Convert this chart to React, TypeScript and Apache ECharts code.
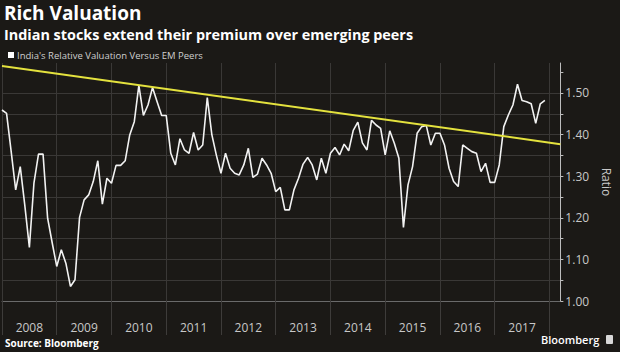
import React, { useEffect, useRef } from "react";
import * as echarts from "echarts";

const startYear = 2008;
const seriesName = "India's Relative Valuation Versus EM Peers";
// Monthly ratio values, Jan 2008 .. Dec 2017
const ratio = [
  1.459, 1.451, 1.36, 1.267, 1.323, 1.23, 1.129, 1.283, 1.353, 1.353, 1.199, 1.14,
  1.083, 1.123, 1.091, 1.035, 1.051, 1.201, 1.243, 1.255, 1.287, 1.337, 1.233, 1.295,
  1.283, 1.326, 1.326, 1.337, 1.399, 1.431, 1.518, 1.446, 1.471, 1.513, 1.479, 1.446,
  1.446, 1.355, 1.327, 1.39, 1.363, 1.355, 1.405, 1.363, 1.375, 1.489, 1.4, 1.35,
  1.307, 1.355, 1.319, 1.307, 1.303, 1.327, 1.367, 1.297, 1.305, 1.343, 1.327, 1.307,
  1.263, 1.273, 1.219, 1.219, 1.267, 1.295, 1.329, 1.345, 1.327, 1.291, 1.343, 1.307,
  1.355, 1.369, 1.351, 1.377, 1.361, 1.41, 1.43, 1.38, 1.363, 1.434, 1.423, 1.415,
  1.351, 1.409, 1.379, 1.343, 1.177, 1.279, 1.323, 1.403, 1.419, 1.422, 1.375, 1.403,
  1.403, 1.375, 1.319, 1.287, 1.275, 1.375, 1.367, 1.359, 1.355, 1.311, 1.331, 1.285,
  1.285, 1.327, 1.419, 1.447, 1.471, 1.521, 1.482, 1.479, 1.474, 1.427, 1.474, 1.482,
];
const trendX = [2008, 2018.2];
const trendY = [1.565, 1.377];
const yearTicks = [2008, 2009, 2010, 2011, 2012, 2013, 2014, 2015, 2016, 2017, 2018];
const yearLabels = [2008, 2009, 2010, 2011, 2012, 2013, 2014, 2015, 2016, 2017];
const yLabels = [1.0, 1.1, 1.2, 1.3, 1.4, 1.5];
const yTicks = [1.0, 1.05, 1.1, 1.15, 1.2, 1.25, 1.3, 1.35, 1.4, 1.45, 1.5, 1.55];

const FONT = "'Open Sans', 'Noto Sans', sans-serif";

export default function App() {
  const ref = useRef<HTMLDivElement>(null);
  useEffect(() => {
    if (!ref.current) return;
    const chart = echarts.init(ref.current, undefined, { renderer: "svg" });
    chart.setOption({
      animation: false,
      backgroundColor: "#1b1916",
      textStyle: { fontFamily: FONT },
      title: [
        {
          text: "Rich Valuation",
          left: 4,
          top: 2,
          padding: 0,
          textStyle: { color: "#ffffff", fontSize: 19, fontWeight: "bold", fontFamily: FONT, lineHeight: 22 },
        },
        {
          text: "Indian stocks extend their premium over emerging peers",
          left: 4,
          top: 26,
          padding: 0,
          textStyle: { color: "#ffffff", fontSize: 14.4, fontWeight: "bold", fontFamily: FONT, lineHeight: 17 },
        },
      ],
      legend: {
        data: [seriesName],
        left: 8,
        top: 50,
        padding: 0,
        icon: "rect",
        itemWidth: 6,
        itemHeight: 6,
        itemGap: 4,
        textStyle: { color: "#cfcfcf", fontSize: 9.5, fontFamily: FONT, padding: [0, 0, 0, -2] },
      },
      grid: { left: 2, right: 48, top: 63, bottom: 51, containLabel: false },
      xAxis: {
        type: "value",
        min: 2008,
        max: 2018.2,
        interval: 1,
        axisLine: { show: true, lineStyle: { color: "#6a6a6a", width: 1 } },
        axisTick: {
          show: true,
          customValues: yearTicks,
          length: 34,
          lineStyle: { color: "#3e3c3a", width: 1 },
        },
        axisLabel: {
          customValues: yearLabels.map((y) => y + 0.5),
          formatter: (v: number) => String(Math.floor(v)),
          color: "#c8c8c8",
          fontSize: 12,
          margin: 19,
          lineHeight: 14,
          fontFamily: FONT,
        },
        splitLine: { show: true, lineStyle: { color: "#3a3836", width: 1 } },
      },
      yAxis: {
        type: "value",
        position: "right",
        min: 1.0,
        max: 1.572,
        interval: 0.1,
        name: "Ratio",
        nameLocation: "middle",
        nameRotate: -90,
        nameGap: 36,
        nameTextStyle: { color: "#c8c8c8", fontSize: 12, fontFamily: FONT },
        axisLine: { show: true, lineStyle: { color: "#bdbdbd", width: 1 } },
        axisTick: {
          show: true,
          customValues: yTicks,
          inside: false,
          length: 3,
          lineStyle: { color: "#bdbdbd" },
        },
        axisLabel: {
          customValues: yLabels,
          formatter: (v: number) => v.toFixed(2),
          color: "#c8c8c8",
          fontSize: 12,
          margin: 5,
          fontFamily: FONT,
        },
        splitLine: { show: true, showMaxLine: false, lineStyle: { color: "#3a3836", width: 1 } },
      },
      series: [
        {
          name: seriesName,
          type: "line",
          data: ratio.map((v, i) => [startYear + i / 12, v]),
          symbol: "none",
          lineStyle: { color: "#f2f2f2", width: 1.6 },
          itemStyle: { color: "#ffffff" },
          z: 3,
        },
        {
          name: "Trend",
          type: "line",
          data: trendX.map((x, i) => [x, trendY[i]]),
          symbol: "none",
          lineStyle: { color: "#e4e23e", width: 2 },
          z: 4,
        },
      ],
      graphic: [
        {
          type: "text",
          left: 5,
          top: 338,
          style: { text: "Source: Bloomberg", fill: "#ffffff", fontSize: 10, fontWeight: "bold", fontFamily: FONT },
        },
        {
          type: "text",
          left: 541,
          top: 334,
          style: { text: "Bloomberg", fill: "#ffffff", fontSize: 11, fontWeight: 600, fontFamily: FONT },
        },
        {
          type: "rect",
          shape: { x: 606, y: 335, width: 7, height: 9, r: 1 },
          style: { fill: "#d8d8d8" },
        },
      ],
    });
    return () => chart.dispose();
  }, []);
  return <div ref={ref} style={{ width: 620, height: 352, position: "absolute", left: 0, top: 0 }} />;
}
